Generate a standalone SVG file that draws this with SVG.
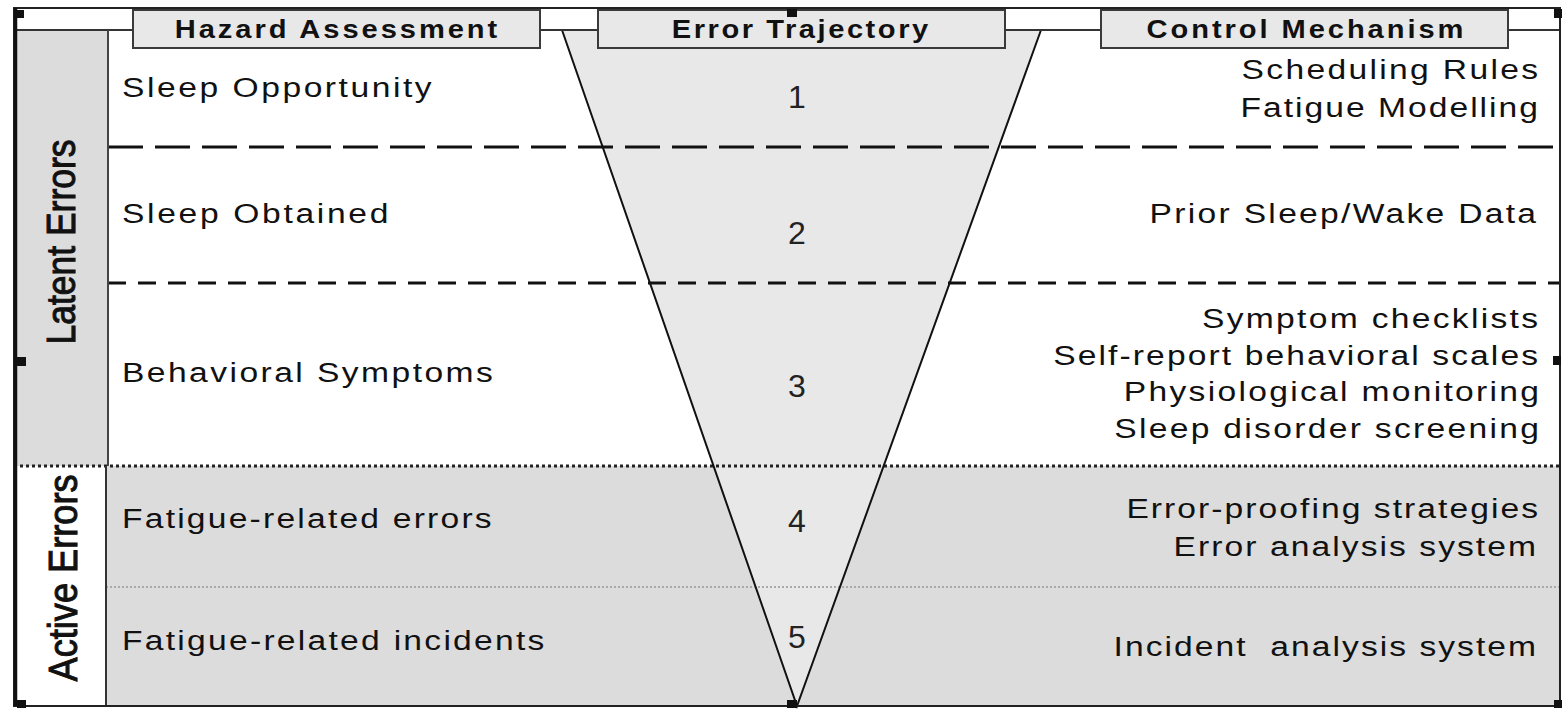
<svg xmlns="http://www.w3.org/2000/svg" width="1564" height="710" viewBox="0 0 1564 710">
<style>
.t{font-family:"Liberation Sans",Arial,sans-serif;font-size:28px;fill:#111}
.r{text-anchor:end}
.h{font-family:"Liberation Sans",Arial,sans-serif;font-size:26px;font-weight:bold;fill:#111;text-anchor:middle}
.n{font-family:"Liberation Sans",Arial,sans-serif;font-size:32px;fill:#222;text-anchor:middle}
.v{font-family:"Liberation Sans",Arial,sans-serif;font-size:36px;fill:#111;stroke:#111;stroke-width:0.9;text-anchor:middle}
.hb{fill:#e8e8e8;stroke:#3a3a3a;stroke-width:2}
.hd{fill:#111}
</style>
<rect x="0" y="0" width="1564" height="710" fill="#fff"/>
<g id="bands">
<rect x="106" y="466" width="1454" height="240" fill="#dcdcdc"/>
<rect x="15" y="30" width="93" height="436" fill="#dcdcdc"/>
<rect x="15" y="466" width="91" height="240" fill="#fff"/>
</g>
<g id="trajectory">
<polygon points="562,30 1041,30 797,706" fill="#e8e8e8"/>
</g>
<g id="connectors" fill="none">
<line x1="108" y1="147" x2="1560" y2="147" stroke="#111" stroke-width="3" stroke-dasharray="35 12"/>
<line x1="108" y1="283" x2="1560" y2="283" stroke="#111" stroke-width="3" stroke-dasharray="18 12"/>
<line x1="14" y1="466" x2="1560" y2="466" stroke="#222" stroke-width="3" stroke-dasharray="3 3"/>
<line x1="106" y1="587" x2="1560" y2="587" stroke="#aaa" stroke-width="2" stroke-dasharray="2 2"/>
<polyline points="562,30 797,706 1041,30" stroke="#111" stroke-width="2"/>
<line x1="14" y1="30" x2="1560" y2="30" stroke="#333" stroke-width="2"/>
<line x1="108" y1="30" x2="108" y2="466" stroke="#444" stroke-width="2"/>
<line x1="106" y1="466" x2="106" y2="706" stroke="#333" stroke-width="2"/>
<rect x="14" y="8" width="1546" height="698" stroke="#222" stroke-width="2"/>
<line x1="15.5" y1="8" x2="15.5" y2="706" stroke="#111" stroke-width="3.5"/>
</g>
<g id="header-hazard">
<rect class="hb" x="133" y="10" width="407" height="38"/>
<text class="h" transform="translate(336 38) scale(1.12 1)" textLength="288" lengthAdjust="spacing">Hazard Assessment</text>
</g>
<g id="header-trajectory">
<rect class="hb" x="598" y="10" width="407" height="38"/>
<text class="h" transform="translate(800 38) scale(1.12 1)" textLength="229" lengthAdjust="spacing">Error Trajectory</text>
</g>
<g id="header-control">
<rect class="hb" x="1101" y="10" width="407" height="38"/>
<text class="h" transform="translate(1305 38) scale(1.12 1)" textLength="283" lengthAdjust="spacing">Control Mechanism</text>
</g>
<g id="lane-latent">
<text class="v" transform="translate(75 242) scale(1.12 1) rotate(-90)" textLength="205" lengthAdjust="spacingAndGlyphs">Latent Errors</text>
</g>
<g id="lane-active">
<text class="v" transform="translate(77 578) scale(1.12 1) rotate(-90)" textLength="207" lengthAdjust="spacingAndGlyphs">Active Errors</text>
</g>
<g id="row1">
<text class="t" transform="translate(122 97) scale(1.2 1)" textLength="258" lengthAdjust="spacing">Sleep Opportunity</text>
<text class="n" x="797" y="108">1</text>
<text class="t r" transform="translate(1538 79) scale(1.2 1)" textLength="247" lengthAdjust="spacing">Scheduling Rules</text>
<text class="t r" transform="translate(1538 117) scale(1.2 1)" textLength="248" lengthAdjust="spacing">Fatigue Modelling</text>
</g>
<g id="row2">
<text class="t" transform="translate(122 223) scale(1.2 1)" textLength="222" lengthAdjust="spacing">Sleep Obtained</text>
<text class="n" x="797" y="244">2</text>
<text class="t r" transform="translate(1536 223) scale(1.2 1)" textLength="322" lengthAdjust="spacing">Prior Sleep/Wake Data</text>
</g>
<g id="row3">
<text class="t" transform="translate(122 382) scale(1.2 1)" textLength="309" lengthAdjust="spacing">Behavioral Symptoms</text>
<text class="n" x="797" y="397">3</text>
<text class="t r" transform="translate(1538 328) scale(1.2 1)" textLength="280" lengthAdjust="spacing">Symptom checklists</text>
<text class="t r" transform="translate(1538 365) scale(1.2 1)" textLength="404" lengthAdjust="spacing">Self-report behavioral scales</text>
<text class="t r" transform="translate(1539 401) scale(1.2 1)" textLength="346" lengthAdjust="spacing">Physiological monitoring</text>
<text class="t r" transform="translate(1539 438) scale(1.2 1)" textLength="354" lengthAdjust="spacing">Sleep disorder screening</text>
</g>
<g id="row4">
<text class="t" transform="translate(122 528) scale(1.2 1)" textLength="308" lengthAdjust="spacing">Fatigue-related errors</text>
<text class="n" x="797" y="532">4</text>
<text class="t r" transform="translate(1538 518) scale(1.2 1)" textLength="343" lengthAdjust="spacing">Error-proofing strategies</text>
<text class="t r" transform="translate(1536 556) scale(1.2 1)" textLength="302" lengthAdjust="spacing">Error analysis system</text>
</g>
<g id="row5">
<text class="t" transform="translate(122 650) scale(1.2 1)" textLength="352" lengthAdjust="spacing">Fatigue-related incidents</text>
<text class="n" x="797" y="648">5</text>
<text class="t r" transform="translate(1536 656) scale(1.2 1)" textLength="352" lengthAdjust="spacing" xml:space="preserve">Incident  analysis system</text>
</g>
<g id="handles">
<rect class="hd" x="15" y="10" width="9" height="8"/>
<rect class="hd" x="787" y="9" width="10" height="8"/>
<rect class="hd" x="1554" y="9" width="8" height="9"/>
<rect class="hd" x="17" y="357" width="9" height="9"/>
<rect class="hd" x="1553" y="356" width="8" height="9"/>
<rect class="hd" x="17" y="700" width="9" height="8"/>
<rect class="hd" x="787" y="700" width="10" height="8"/>
<rect class="hd" x="1554" y="700" width="8" height="8"/>
</g>
</svg>
